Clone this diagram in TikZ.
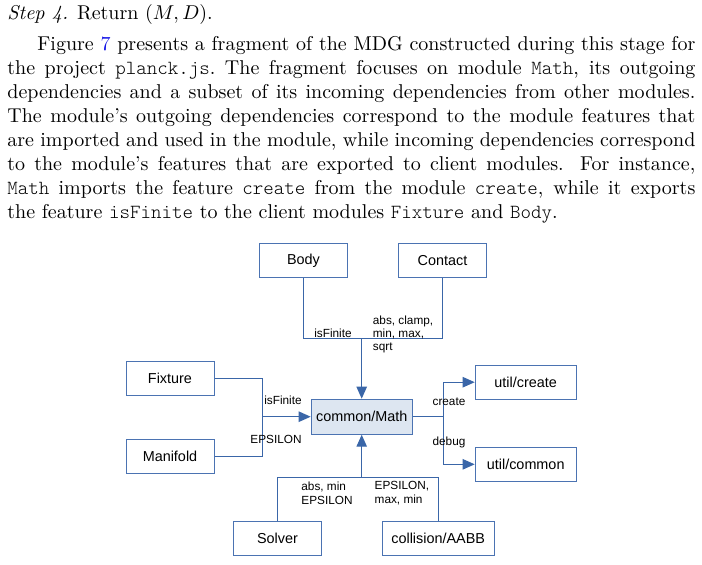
\documentclass[tikz,border=0pt]{standalone}
\usepackage{fontspec}
\setmonofont{lmmonolt10-regular.otf}
\newfontfamily\diafont{Liberation Sans}
\usetikzlibrary{arrows.meta}
\definecolor{linkblue}{RGB}{58,102,168}
\definecolor{boxblue}{RGB}{75,115,178}
\definecolor{mathfill}{RGB}{221,230,241}
\definecolor{refblue}{RGB}{20,20,230}
\begin{document}
\begin{tikzpicture}[x=0.5pt,y=-0.5pt,
    box/.style={draw=boxblue,line width=0.5pt,minimum width=44pt,minimum height=17pt,
      inner sep=0pt,font=\diafont\fontsize{7.2}{8}\selectfont},
    lbl/.style={inner sep=0pt,align=left,font=\diafont\fontsize{5.9}{6.7}\selectfont},
    link/.style={draw=linkblue,line width=0.6pt},
    arr/.style={link,-{Triangle[length=6pt,width=5.2pt]}}]
  \useasboundingbox (0,0) rectangle (702,564);

  % ===== text above the figure =====
  \node[anchor=base west,inner sep=0pt] (step) at (7,19) {\textit{Step 4.} Return $(M,D)$.};
  \node[anchor=base west,inner sep=0pt,text width=344pt,align=justify] (para) at (7,50)
    {\hspace*{15pt}Figure \textcolor{refblue}{7} presents a fragment of the MDG constructed during this stage for\linebreak
     the project \texttt{planck.js}.\ The fragment focuses on module \texttt{Math}, its outgoing\linebreak
     dependencies and a subset of its incoming dependencies from other modules.\linebreak
     The module's outgoing dependencies correspond to the module features that\linebreak
     are imported and used in the module, while incoming dependencies correspond\linebreak
     to the module's features that are exported to client modules. For instance,\linebreak
     \texttt{Math} imports the feature \texttt{create} from the module \texttt{create}, while it exports\linebreak
     the feature \texttt{isFinite} to the client modules \texttt{Fixture} and \texttt{Body}.};

  % ===== modules =====
  \node[box] (body) at (303.5,260.5) {Body};
  \node[box] (contact) at (442.5,260.5) {Contact};
  \node[box] (fixture) at (170,378.5) {Fixture};
  \node[box] (manifold) at (170,456.5) {Manifold};
  \node[box,fill=mathfill,minimum width=50.5pt,minimum height=17.5pt] (math) at (361.7,416.7) {common/Math};
  \node[box,minimum width=50.5pt] (ucreate) at (525.7,382.2) {util/create};
  \node[box,minimum width=50.5pt] (ucommon) at (525.7,464.3) {util/common};
  \node[box] (solver) at (277.5,538.8) {Solver};
  \node[box,minimum width=56pt] (aabb) at (438.2,538.8) {collision/AABB};

  % ===== junctions =====
  \coordinate (topj) at (361.7,338.5);
  \coordinate (leftj) at (262.5,416.7);
  \coordinate (rightj) at (443.5,416.7);
  \coordinate (botj) at (361.7,477.3);

  % ===== incoming =====
  \draw[link] (body.south) |- (topj);
  \draw[link] (contact.south) |- (topj);
  \draw[arr] (topj) -- (math.north);
  \draw[link] (fixture.east) -| (leftj);
  \draw[link] (manifold.east) -| (leftj);
  \draw[arr] (leftj) -- (math.west);
  \draw[link] (solver.north) |- (botj);
  \draw[link] (aabb.north) |- (botj);
  \draw[arr] (botj) -- (math.south);

  % ===== outgoing =====
  \draw[link] (math.east) -- (rightj);
  \draw[arr] (rightj) |- (ucreate.west);
  \draw[arr] (rightj) |- (ucommon.west);

  % ===== features =====
  \node[lbl] (fbody) at (333,333.5) {isFinite};
  \node[lbl,anchor=west] (fcontact) at (372.5,334.5) {abs, clamp,\\min, max,\\sqrt};
  \node[lbl] (ffixture) at (283,400) {isFinite};
  \node[lbl] (fmanifold) at (276,439.3) {EPSILON};
  \node[lbl] (fcreate) at (449,401.7) {create};
  \node[lbl] (fdebug) at (449,442.7) {debug};
  \node[lbl,anchor=west] (fsolver) at (301,493.3) {abs, min\\EPSILON};
  \node[lbl,anchor=west] (faabb) at (374.3,493.3) {EPSILON,\\max, min};
\end{tikzpicture}
\end{document}
